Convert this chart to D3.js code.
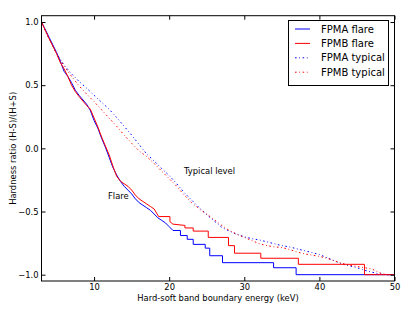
<!DOCTYPE html>
<html><head><meta charset="utf-8">
<script src="https://cdn.jsdelivr.net/npm/d3@7"></script>
<style>body{margin:0;background:#fff}text{font-family:"DejaVu Sans",sans-serif}</style>
</head><body><svg id="c" width="415" height="313"></svg>
<script>
// Flare curves (step-like), x = boundary energy (keV), y = hardness ratio
const flareAx = [3,4,5,5.5,6,6.5,7,7.5,8,9,9.5,10,10.5,11,11.5,12,12.5,13,13.5,14,14.5,15,15.5,16,16.5,17,17.5,18,18.5,19,19.5,20,20.5,21.5,21.5,22.4,22.4,23.2,23.2,24.8,24.8,25.4,25.4,27.1,27.1,33.9,33.9,36.9,36.9,50];
const flareAy = [1.0,0.88,0.76,0.69,0.61,0.57,0.52,0.46,0.42,0.35,0.30,0.22,0.16,0.08,0.01,-0.07,-0.15,-0.21,-0.26,-0.30,-0.33,-0.36,-0.40,-0.43,-0.45,-0.47,-0.49,-0.52,-0.55,-0.57,-0.59,-0.62,-0.65,-0.65,-0.69,-0.69,-0.72,-0.72,-0.76,-0.76,-0.79,-0.79,-0.85,-0.85,-0.905,-0.905,-0.945,-0.945,-1.0,-1.0];
const flareBx = [3,4,5,5.5,6,6.5,7,7.5,8,9,9.5,10,10.5,11,11.5,12,12.5,13,13.5,14,14.5,15,15.5,16,16.5,17,17.5,18,18.6,20.1,20.1,20.5,22.1,22.1,23.2,23.2,25.2,25.2,27.9,27.9,28.7,28.7,32.2,32.2,37.2,37.2,46,46,50];
const flareBy = [1.0,0.87,0.75,0.68,0.63,0.57,0.50,0.45,0.41,0.34,0.31,0.24,0.17,0.09,0.02,-0.05,-0.14,-0.22,-0.26,-0.28,-0.30,-0.33,-0.37,-0.40,-0.42,-0.44,-0.46,-0.48,-0.54,-0.54,-0.58,-0.60,-0.61,-0.63,-0.63,-0.655,-0.655,-0.705,-0.705,-0.77,-0.77,-0.83,-0.83,-0.87,-0.87,-0.918,-0.918,-1.0,-1.0];
// Typical level curves
const typX = [3,4,5,6,7,8,9,10,11,12,13,14,15,16,17,18,19,20,21,22,23,24,25,26,27,28,29,30,31,32,33,34,35,36,37,38,39,40,41,42,43,44,45,46,47,48,49,50];
const typAy = [1.0,0.87,0.75,0.66,0.59,0.53,0.477,0.42,0.365,0.31,0.245,0.175,0.105,0.03,-0.045,-0.10,-0.16,-0.215,-0.28,-0.35,-0.41,-0.47,-0.525,-0.575,-0.625,-0.655,-0.68,-0.70,-0.715,-0.725,-0.74,-0.755,-0.77,-0.78,-0.795,-0.81,-0.825,-0.84,-0.865,-0.89,-0.915,-0.93,-0.945,-0.965,-0.98,-0.995,-1.0,-1.0];
const typBy = [1.0,0.87,0.75,0.65,0.57,0.495,0.43,0.37,0.305,0.24,0.175,0.105,0.04,-0.02,-0.065,-0.12,-0.18,-0.24,-0.30,-0.37,-0.43,-0.48,-0.52,-0.565,-0.61,-0.65,-0.68,-0.705,-0.73,-0.755,-0.77,-0.78,-0.785,-0.80,-0.82,-0.835,-0.845,-0.855,-0.87,-0.89,-0.91,-0.925,-0.935,-0.945,-0.955,-0.985,-1.0,-1.0];
const xTicks = [10,20,30,40,50];
const yTicks = [-1.0,-0.5,0.0,0.5,1.0];
const seriesNames = ["FPMA flare","FPMB flare","FPMA typical","FPMB typical"];

const svg = d3.select("#c");
const L=41.5, R=394.5, T=15.7, B=281;
const x = d3.scaleLinear().domain([3,50]).range([L,R]);
const y = d3.scaleLinear().domain([-1.05,1.05]).range([B,T]);

svg.append("clipPath").attr("id","clip").append("rect").attr("x",L).attr("y",T).attr("width",R-L).attr("height",B-T);

const series = [
  {xs:flareAx, ys:flareAy, color:"#0000ff", dash:null},
  {xs:flareBx, ys:flareBy, color:"#ff0000", dash:null},
  {xs:typX, ys:typAy, color:"#0000ff", dash:"1.6,2.6,0.8,2.6"},
  {xs:typX, ys:typBy, color:"#ff0000", dash:"1.6,2.6,0.8,2.6"}
];
const line = d3.line().x(d=>x(d[0])).y(d=>y(d[1]));
const g = svg.append("g").attr("clip-path","url(#clip)");
[2,3,0,1].forEach(i=>{
  const s = series[i];
  g.append("path").datum(s.xs.map((v,k)=>[v,s.ys[k]]))
    .attr("d",line).attr("fill","none").attr("stroke",s.color)
    .attr("stroke-width",1).attr("stroke-dasharray",s.dash);
});

const fs = "8.4px";
const ax = svg.append("g").attr("transform",`translate(0,${B})`)
  .call(d3.axisBottom(x).tickValues(xTicks).tickSize(-4).tickPadding(3.5).tickFormat(d3.format("d")));
const axT = svg.append("g").attr("transform",`translate(0,${T})`)
  .call(d3.axisTop(x).tickValues(xTicks).tickSize(-4).tickFormat(""));
const ay = svg.append("g").attr("transform",`translate(${L},0)`)
  .call(d3.axisLeft(y).tickValues(yTicks).tickSize(-4).tickPadding(3).tickFormat(d3.format(".1f")));
const ayR = svg.append("g").attr("transform",`translate(${R},0)`)
  .call(d3.axisRight(y).tickValues(yTicks).tickSize(-4).tickFormat(""));
[ax,axT,ay,ayR].forEach(a=>{a.select(".domain").remove();a.selectAll("text").attr("font-size",fs).attr("font-family","DejaVu Sans").attr("fill","#000");a.selectAll("line").attr("stroke","#000");});
svg.append("rect").attr("x",L).attr("y",T).attr("width",R-L).attr("height",B-T).attr("fill","none").attr("stroke","#000").attr("stroke-width",1);

svg.append("text").attr("x",(L+R)/2).attr("y",300.5).attr("text-anchor","middle").attr("font-size",fs).text("Hard-soft band boundary energy (keV)");
svg.append("text").attr("transform",`translate(15.5,${(T+B)/2}) rotate(-90)`).attr("text-anchor","middle").attr("font-size",fs).text("Hardness ratio (H-S)/(H+S)");

svg.append("text").attr("x",184).attr("y",174).attr("font-size",fs).text("Typical level");
svg.append("text").attr("x",108).attr("y",199).attr("font-size",fs).text("Flare");

// legend
const lg = svg.append("g");
lg.append("rect").attr("x",288.5).attr("y",20.5).attr("width",100).attr("height",65).attr("fill","#fff").attr("stroke","#000").attr("stroke-width",1);
seriesNames.forEach((n,i)=>{
  const yy = 29 + i*14.4;
  lg.append("line").attr("x1",295).attr("x2",310).attr("y1",yy).attr("y2",yy)
    .attr("stroke",series[i].color).attr("stroke-width",1).attr("stroke-dasharray",series[i].dash);
  lg.append("text").attr("x",321).attr("y",yy).attr("dy","0.35em").attr("font-size","10px").text(n);
});
</script></body></html>
